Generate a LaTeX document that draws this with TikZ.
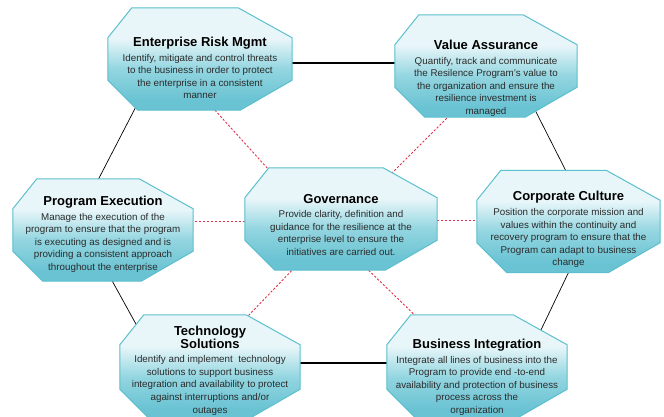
\documentclass[tikz,border=0pt]{standalone}
\usepackage{fontspec}
\setmainfont{Liberation Sans}
\usetikzlibrary{calc}
\definecolor{octoline}{HTML}{5BBFCE}
\definecolor{dashred}{HTML}{E2304A}
\definecolor{bodytext}{HTML}{2B2B2B}
\definecolor{tealC}{HTML}{6AC3D3}
\definecolor{tealB}{HTML}{92D5E0}
\definecolor{tealW}{HTML}{E8F6F9}
\definecolor{tealT}{HTML}{C9ECF2}
\pgfdeclareverticalshading{octoshade}{100bp}{color(0bp)=(tealC); color(30bp)=(tealC); color(45bp)=(tealB); color(60bp)=(tealW); color(82bp)=(tealW); color(100bp)=(tealT)}
\pgfdeclarelayer{lines}
\pgfdeclarelayer{shapes}
\pgfsetlayers{lines,shapes,main}
\newcommand\boxtitle[1]{{\fontsize{13}{13}\selectfont\bfseries\color{black}#1}}
\begin{document}
\begin{tikzpicture}[x=1pt,y=-1pt,
  box/.style={rectangle, inner sep=0pt, minimum width=#1, minimum height=102pt},
  txt/.style={align=center, inner sep=0pt, text=bodytext, font=\fontsize{9.8}{12.6}\selectfont, anchor=north},
  link/.style={draw=black, line width=0.7pt},
  thick link/.style={draw=black, line width=1.2pt},
  gov link/.style={draw=dashred, line width=0.9pt, dash pattern=on 2.2pt off 1.8pt},
  octo/.style={shade, shading=octoshade, draw=octoline, line width=1pt, line join=round},
]
\useasboundingbox (0,0) rectangle (664,417);

% shape holders
\node[box=184pt] (erm) at (200,59) {};
\node[box=182pt] (va)  at (486,66) {};
\node[box=192pt] (gov) at (341,219) {};
\node[box=180pt] (pe)  at (103,230) {};
\node[box=183pt] (cc)  at (568.5,221.5) {};
\node[box=180pt, minimum height=104pt] (ts) at (210,367) {};
\node[box=180pt, minimum height=104pt] (bi) at (477,367) {};

% octagons
\begin{pgfonlayer}{shapes}
\foreach \n in {erm,va,gov,pe,cc,ts,bi}{
  \path[octo] ([xshift=24pt]\n.north west) -- ([xshift=-54pt]\n.north east)
    -- ([yshift=-30pt]\n.north east) -- ([yshift=30pt]\n.south east)
    -- ([xshift=-52pt]\n.south east) -- ([xshift=30pt]\n.south west)
    -- ([yshift=30pt]\n.south west) -- ([yshift=-30pt]\n.north west) -- cycle;
}
\end{pgfonlayer}

% connectors
\begin{pgfonlayer}{lines}
\draw[thick link] ($(erm.center)+(80,4)$) -- ($(va.center)+(-80,-3)$);
\draw[link] ($(erm.center)+(-58,36)$) -- ($(pe.center)+(-6,-48)$);
\draw[link] ($(pe.center)+(7,47)$) -- ($(ts.center)+(-68,-32)$);
\draw[thick link] ($(ts.center)+(80,-4)$) -- ($(bi.center)+(-80,-4)$);
\draw[link] ($(bi.center)+(63,-35)$) -- ($(cc.center)+(0,51)$);
\draw[link] ($(cc.center)+(-1.5,-48.5)$) -- ($(va.center)+(49,44)$);
\draw[gov link] ($(gov.center)+(-63,-39)$) -- ($(erm.center)+(13,49)$);
\draw[gov link] ($(gov.center)+(42,-37)$) -- ($(va.center)+(-36,49)$);
\draw[gov link] ($(gov.center)+(-80,2)$) -- ($(pe.center)+(80,-9)$);
\draw[gov link] ($(gov.center)+(80,1)$) -- ($(cc.center)+(-80,-1.5)$);
\draw[gov link] ($(gov.center)+(-41,43)$) -- ($(ts.center)+(37,-50)$);
\draw[gov link] ($(gov.center)+(19,43)$) -- ($(bi.center)+(-52,-42)$);
\end{pgfonlayer}

% texts
\node[txt] (erm-t) at ([yshift=-29pt]erm.north) {\boxtitle{Enterprise Risk Mgmt}\\[2pt]
  Identify, mitigate and control threats\\ to the business in order to protect\\
  the enterprise in a consistent\\ manner};
\node[txt] (va-t) at ([yshift=-25pt]va.north) {\boxtitle{Value Assurance}\\[2pt]
  Quantify, track and communicate\\ the Resilence Program’s value to\\
  the organization and ensure the\\ resilience investment is\\ managed};
\node[txt] (gov-t) at ([yshift=-26pt]gov.north) {\boxtitle{Governance}\\[2pt]
  Provide clarity, definition and\\ guidance for the resilience at the\\
  enterprise level to ensure the\\ initiatives are carried out.};
\node[txt] (pe-t) at ([yshift=-17pt]pe.north) {\boxtitle{Program Execution}\\[2pt]
  Manage the execution of the\\ program to ensure that the program\\
  is executing as designed and is\\ providing a consistent approach\\ throughout the enterprise};
\node[txt] (cc-t) at ([yshift=-21pt]cc.north) {\boxtitle{Corporate Culture}\\[2pt]
  Position the corporate mission and\\ values within the continuity and\\
  recovery program to ensure that the\\ Program can adapt to business\\ change};
\node[txt] (ts-t) at ([yshift=-11pt]ts.north) {\boxtitle{Technology}\\ \boxtitle{Solutions}\\[2pt]
  Identify and implement\ \ technology\\ solutions to support business\\
  integration and availability to protect\\ against interruptions and/or\\ outages};
\node[txt] (bi-t) at ([yshift=-24pt]bi.north) {\boxtitle{Business Integration}\\[2pt]
  Integrate all lines of business into the\\ Program to provide end -to-end\\
  availability and protection of business\\ process across the\\ organization};
\end{tikzpicture}
\end{document}
